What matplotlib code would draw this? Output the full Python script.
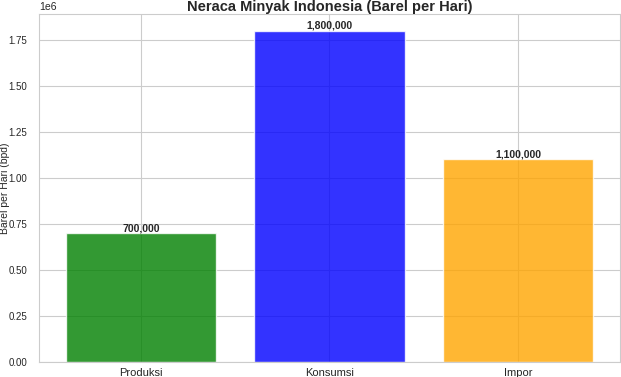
import matplotlib
matplotlib.use("Agg")
import matplotlib.pyplot as plt
import seaborn as sns

categories = ['Produksi', 'Konsumsi', 'Impor']
values = [700000, 1800000, 1100000]
colors = ['green', 'blue', 'orange']

sns.set_style('whitegrid')
plt.rcParams['font.family'] = ['Liberation Sans', 'DejaVu Sans']

fig, ax = plt.subplots(figsize=(6.21, 3.77), dpi=100)
fig.subplots_adjust(left=0.063, right=0.998, top=0.963, bottom=0.04)

bars = ax.bar(categories, values, color=colors, alpha=0.8)
for b, v in zip(bars, values):
    ax.text(b.get_x() + b.get_width() / 2, v, f'{v:,}', ha='center', va='bottom',
            fontsize=7.5, fontweight='bold')

ax.set_title('Neraca Minyak Indonesia (Barel per Hari)', fontsize=10.5, fontweight='bold', pad=2)
ax.set_ylabel('Barel per Hari (bpd)', fontsize=7.5)
ax.yaxis.set_label_coords(-0.05, 0.5)
ax.tick_params(axis='y', labelsize=7, pad=5)
ax.tick_params(axis='x', labelsize=8, pad=1)
ax.yaxis.get_offset_text().set_fontsize(7.5)

fig.savefig('out.png', dpi=100)
